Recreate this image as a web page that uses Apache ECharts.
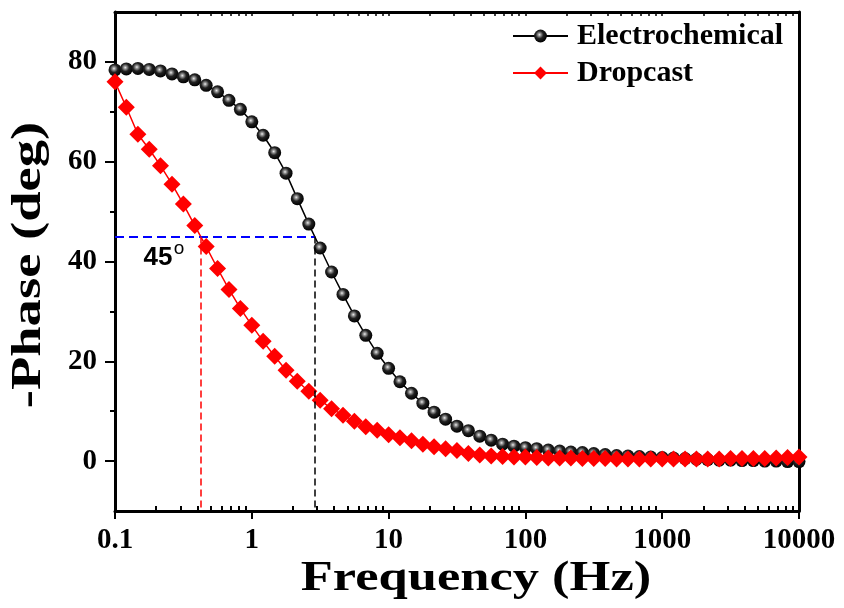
<!DOCTYPE html>
<html>
<head>
<meta charset="utf-8">
<script src="https://cdn.jsdelivr.net/npm/echarts/dist/echarts.min.js"></script>
<style>
    html, body { margin: 0; padding: 0; background: #fff; }
    #container { width: 844px; height: 608px; }
</style>
</head>
<body>
<div id="container"></div>
<script>
// 频率 (Hz)
var freqs = [0.1, 0.121, 0.147, 0.178, 0.215, 0.261, 0.316, 0.383, 0.464, 0.562, 0.681, 0.825,
    1, 1.21, 1.47, 1.78, 2.15, 2.61, 3.16, 3.83, 4.64, 5.62, 6.81, 8.25,
    10, 12.1, 14.7, 17.8, 21.5, 26.1, 31.6, 38.3, 46.4, 56.2, 68.1, 82.5,
    100, 121, 147, 178, 215, 261, 316, 383, 464, 562, 681, 825,
    1000, 1210, 1470, 1780, 2150, 2610, 3160, 3830, 4640, 5620, 6810, 8250, 10000];
// -Phase (deg)
var electrochemical = [78.4, 78.6, 78.7, 78.5, 78.2, 77.6, 77.0, 76.4, 75.3, 74.0,
    72.3, 70.5, 68.0, 65.3, 61.8, 57.7, 52.6, 47.5, 42.7, 37.9,
    33.4, 29.1, 25.2, 21.6, 18.6, 15.9, 13.6, 11.6, 9.8, 8.4,
    7.0, 6.1, 5.0, 4.2, 3.4, 3.0, 2.7, 2.5, 2.2, 2.0,
    1.8, 1.7, 1.5, 1.3, 1.1, 1.0, 0.9, 0.8, 0.7, 0.6,
    0.5, 0.4, 0.3, 0.2, 0.2, 0.1, 0.1, 0.0, 0.0, -0.1, -0.1];
var dropcast = [76.0, 70.9, 65.5, 62.5, 59.2, 55.5, 51.5, 47.2, 43.0, 38.6,
    34.4, 30.6, 27.2, 24.0, 21.0, 18.2, 16.0, 14.0, 12.2, 10.5,
    9.2, 8.0, 6.9, 6.2, 5.3, 4.7, 4.1, 3.4, 2.9, 2.5,
    2.1, 1.5, 1.2, 1.0, 0.9, 0.8, 0.8, 0.7, 0.6, 0.6,
    0.6, 0.5, 0.5, 0.5, 0.4, 0.4, 0.4, 0.4, 0.4, 0.4,
    0.4, 0.4, 0.4, 0.4, 0.5, 0.5, 0.5, 0.5, 0.6, 0.7, 0.8];

// 刻度
var xTickLabels = [0.1, 1, 10, 100, 1000, 10000];
var yTickLabels = [0, 20, 40, 60, 80];
var yMinorTicks = [10, 30, 50, 70];
var xMinorTicks = [];
xTickLabels.slice(0, -1).forEach(function (d) {
    for (var k = 2; k <= 9; k++) xMinorTicks.push(d * k);
});

// 45° 交点
var crossPhase = 45;
var crossFreqElectro = 2.88;
var crossFreqDrop = 0.424;

var serif = 'Liberation Serif';
var sans = 'Liberation Sans';
var dom = document.getElementById("container");
var myChart = echarts.init(dom);

function pairs(ys) {
    return freqs.map(function (f, i) { return [f, ys[i]]; });
}

var xBase = { type: 'log', logBase: 10, min: 0.1, max: 10000, gridIndex: 0,
    splitLine: { show: false } };
var yBase = { type: 'value', min: -10, max: 90, gridIndex: 0,
    splitLine: { show: false } };

var option = {
    animation: false,
    backgroundColor: '#fff',
    grid: { left: 115, right: 45, top: 12, bottom: 97 },
    legend: {
        orient: 'vertical',
        left: 512,
        top: 21,
        padding: 0,
        itemGap: 7,
        itemWidth: 55,
        itemHeight: 16,
        textStyle: { fontFamily: serif, fontWeight: 'bold', fontSize: 30, color: '#000', padding: [0, 0, 0, 4] },
        data: ['Electrochemical', 'Dropcast']
    },
    //x坐标轴
    xAxis: [
        Object.assign({}, xBase, {
            position: 'bottom',
            axisLine: { onZero: false, lineStyle: { color: '#000', width: 3 } },
            axisTick: { inside: false, length: 8, lineStyle: { width: 2, color: '#000' } },
            axisLabel: {
                margin: 15,
                fontFamily: serif, fontWeight: 'bold', fontSize: 29, color: '#000',
                formatter: function (v) { return String(+(+v).toPrecision(6)); }
            }
        }),
        // 次刻度 (第二根轴的方向是反的, 所以 inside: true)
        Object.assign({}, xBase, {
            position: 'bottom',
            axisLine: { show: false, onZero: false },
            axisTick: { inside: true, length: 5, customValues: xMinorTicks, lineStyle: { width: 2, color: '#000' } },
            axisLabel: { show: false }
        }),
        Object.assign({}, xBase, {
            position: 'top',
            axisLine: { onZero: false, lineStyle: { color: '#000', width: 3 } },
            axisTick: { inside: true, length: 4, customValues: xMinorTicks.concat(xTickLabels), lineStyle: { width: 1.5, color: '#000' } },
            axisLabel: { show: false }
        })
    ],
    //y坐标轴
    yAxis: [
        Object.assign({}, yBase, {
            position: 'left',
            axisLine: { onZero: false, lineStyle: { color: '#000', width: 3 } },
            axisTick: { inside: false, length: 10, customValues: yTickLabels, lineStyle: { width: 2, color: '#000' } },
            axisLabel: {
                margin: 18, customValues: yTickLabels,
                fontFamily: serif, fontWeight: 'bold', fontSize: 29, color: '#000'
            }
        }),
        Object.assign({}, yBase, {
            position: 'left',
            axisLine: { show: false, onZero: false },
            axisTick: { inside: false, length: 5, customValues: yMinorTicks, lineStyle: { width: 2, color: '#000' } },
            axisLabel: { show: false }
        }),
        Object.assign({}, yBase, {
            position: 'right',
            axisLine: { onZero: false, lineStyle: { color: '#000', width: 3 } },
            axisTick: { show: false },
            axisLabel: { show: false }
        })
    ],
    // 轴标题
    graphic: [
        {
            type: 'text', x: 476, y: 579, scaleX: 1.25,
            style: { text: 'Frequency (Hz)', font: 'bold 42px "Liberation Serif"', fill: '#000',
                textAlign: 'center', textVerticalAlign: 'middle' }
        },
        {
            type: 'text', x: 29, y: 265, rotation: Math.PI / 2, scaleX: 1.3,
            style: { text: '-Phase (deg)', font: 'bold 42px "Liberation Serif"', fill: '#000',
                textAlign: 'center', textVerticalAlign: 'middle' }
        }
    ],
    series: [
        {
            name: 'Electrochemical',
            type: 'line',
            xAxisIndex: 0, yAxisIndex: 0,
            symbol: 'circle',
            symbolSize: 13,
            lineStyle: { color: '#000', width: 1.5 },
            itemStyle: {
                color: {
                    type: 'radial', x: 0.42, y: 0.4, r: 0.6,
                    colorStops: [
                        { offset: 0, color: '#eeeeee' },
                        { offset: 0.18, color: '#999999' },
                        { offset: 0.5, color: '#222222' },
                        { offset: 1, color: '#000000' }
                    ]
                }
            },
            data: pairs(electrochemical)
        },
        {
            name: 'Dropcast',
            type: 'line',
            xAxisIndex: 0, yAxisIndex: 0,
            symbol: 'diamond',
            symbolSize: 17,
            lineStyle: { color: '#ff0000', width: 1.5 },
            itemStyle: { color: '#ff0000' },
            data: pairs(dropcast),
            z: 3,
            markLine: {
                silent: true,
                symbol: 'none',
                label: { show: false },
                data: [
                    [{ coord: [0.1, crossPhase], lineStyle: { color: '#0000ff', type: [9, 5], width: 2 } },
                     { coord: [crossFreqElectro, crossPhase] }],
                    [{ coord: [crossFreqElectro, crossPhase], lineStyle: { color: '#000', type: [7, 4], width: 1.5 } },
                     { coord: [crossFreqElectro, -10] }],
                    [{ coord: [crossFreqDrop, crossPhase], lineStyle: { color: '#ff0000', type: [7, 4], width: 1.5 } },
                     { coord: [crossFreqDrop, -10] }]
                ]
            },
            // 45° 标注
            markPoint: {
                silent: true,
                symbol: 'circle',
                symbolSize: 0,
                label: { show: true, position: 'inside', color: '#000', fontFamily: sans },
                data: [
                    { coord: [0.206, 40.8], label: { formatter: '45', fontWeight: 'bold', fontSize: 26 } },
                    { coord: [0.294, 42.5], label: { formatter: 'o', fontWeight: 'normal', fontSize: 19 } }
                ]
            }
        }
    ]
};

if (option && typeof option === "object") {
    myChart.setOption(option, true);
}
</script>
</body>
</html>
